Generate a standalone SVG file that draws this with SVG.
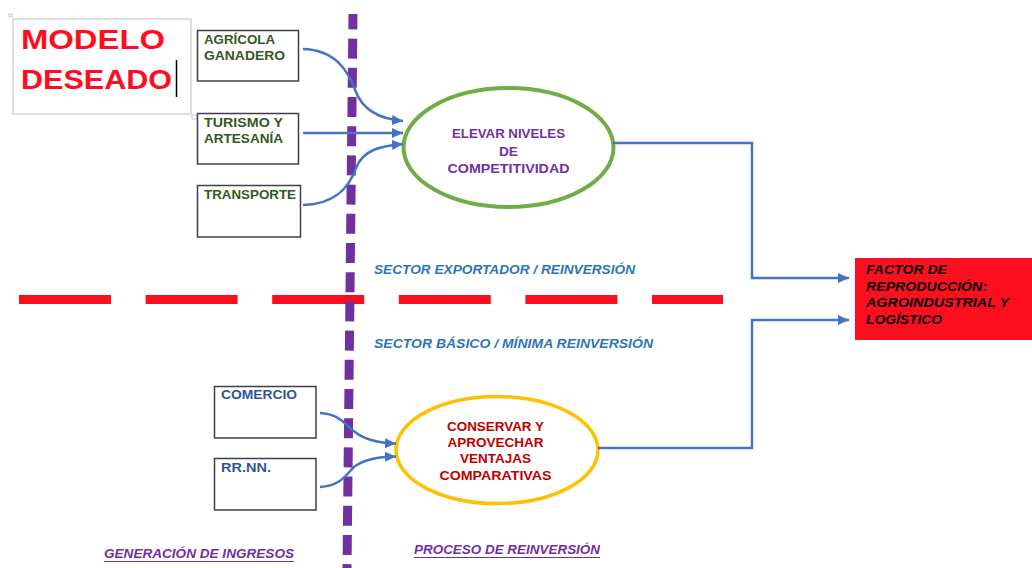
<svg xmlns="http://www.w3.org/2000/svg" width="1032" height="568" viewBox="0 0 1032 568">
<style>
text{font-family:"Liberation Sans",Arial,sans-serif;font-weight:bold;}
.box{fill:#fff;stroke:#404040;stroke-width:1.5;}
.g{fill:#375623;font-size:12px;}
.b{fill:#2F5597;font-size:12px;}
.pu{fill:#7030A0;font-size:12.5px;}
.dr{fill:#C00000;font-size:13.5px;}
.it{font-style:italic;}
.sec{fill:#2E75B6;font-size:12.5px;font-style:italic;}
.blk{fill:#000;font-size:12px;font-style:italic;}
.conn{fill:none;stroke:#4472C4;stroke-width:2.5;marker-end:url(#arr);}
.elb{fill:none;stroke:#4472C4;stroke-width:2.5;marker-end:url(#arr);}
</style>
<defs>
<marker id="arr" markerUnits="userSpaceOnUse" markerWidth="12" markerHeight="10" refX="11" refY="5" orient="auto">
<path d="M0,0 L11,5 L0,10 z" fill="#4472C4"/>
</marker>
</defs>
<rect width="1032" height="568" fill="#fff"/>

<g id="title">
<rect x="13" y="19" width="178" height="95" fill="#fff" stroke="#BFBFBF" stroke-width="1"/>
<rect x="9" y="14" width="3" height="3" fill="none" stroke="#BFBFBF" stroke-width="0.8"/>
<rect x="192" y="115" width="5" height="4" fill="#fff" stroke="#BFBFBF" stroke-width="0.8"/>
<text x="21" y="49" font-size="27" fill="#FF0D1F" textLength="144" lengthAdjust="spacingAndGlyphs">MODELO</text>
<text x="21" y="89" font-size="27" fill="#FF0D1F" textLength="151" lengthAdjust="spacingAndGlyphs">DESEADO</text>
<line x1="176.5" y1="60" x2="176.5" y2="97" stroke="#000" stroke-width="1.5"/>
</g>

<g id="dividers">
<line x1="19" y1="299.5" x2="723" y2="299.5" stroke="#FF0D1F" stroke-width="9" stroke-dasharray="92 34.6"/>
<line x1="353" y1="14" x2="347" y2="568" stroke="#7030A0" stroke-width="9" stroke-dasharray="20 9.2" stroke-dashoffset="4.6"/>
</g>

<g id="agricola">
<rect class="box" x="197.5" y="30.5" width="101" height="50.5"/>
<text class="g" x="204" y="43.5" textLength="71" lengthAdjust="spacingAndGlyphs">AGRÍCOLA</text>
<text class="g" x="204" y="60" textLength="81" lengthAdjust="spacingAndGlyphs">GANADERO</text>
</g>
<g id="turismo">
<rect class="box" x="197.5" y="113.5" width="101" height="50.5"/>
<text class="g" x="204" y="126.5" textLength="79" lengthAdjust="spacingAndGlyphs">TURISMO Y</text>
<text class="g" x="204" y="143" textLength="79" lengthAdjust="spacingAndGlyphs">ARTESANÍA</text>
</g>
<g id="transporte">
<rect class="box" x="197.5" y="185.5" width="103" height="51.5"/>
<text class="g" x="204" y="198.5" textLength="92" lengthAdjust="spacingAndGlyphs">TRANSPORTE</text>
</g>
<g id="comercio">
<rect class="box" x="214.5" y="386.5" width="101.5" height="51.5"/>
<text class="b" x="221" y="399" textLength="76" lengthAdjust="spacingAndGlyphs">COMERCIO</text>
</g>
<g id="rrnn">
<rect class="box" x="214.5" y="458.5" width="101.5" height="51.5"/>
<text class="b" x="221" y="472" textLength="50" lengthAdjust="spacingAndGlyphs">RR.NN.</text>
</g>

<g id="competitividad">
<ellipse cx="508.5" cy="147.5" rx="105" ry="59.5" fill="#fff" stroke="#70AD47" stroke-width="4"/>
<text class="pu" x="508.5" y="138" text-anchor="middle" textLength="113" lengthAdjust="spacingAndGlyphs">ELEVAR NIVELES</text>
<text class="pu" x="508.5" y="155.5" text-anchor="middle" textLength="19" lengthAdjust="spacingAndGlyphs">DE</text>
<text class="pu" x="508.5" y="172.5" text-anchor="middle" textLength="122" lengthAdjust="spacingAndGlyphs">COMPETITIVIDAD</text>
</g>

<g id="ventajas">
<ellipse cx="497" cy="450" rx="101" ry="53.5" fill="#fff" stroke="#FFC000" stroke-width="3.5"/>
<text class="dr" x="495.5" y="431" text-anchor="middle" textLength="97" lengthAdjust="spacingAndGlyphs">CONSERVAR Y</text>
<text class="dr" x="495.5" y="446.5" text-anchor="middle" textLength="96" lengthAdjust="spacingAndGlyphs">APROVECHAR</text>
<text class="dr" x="495.5" y="462.5" text-anchor="middle" textLength="71" lengthAdjust="spacingAndGlyphs">VENTAJAS</text>
<text class="dr" x="495.5" y="480" text-anchor="middle" textLength="112" lengthAdjust="spacingAndGlyphs">COMPARATIVAS</text>
</g>

<g id="factor">
<rect x="855" y="258" width="177" height="82" fill="#FE0F1F"/>
<text class="blk" x="866" y="274" textLength="81" lengthAdjust="spacingAndGlyphs">FACTOR DE</text>
<text class="blk" x="866" y="290.5" textLength="121" lengthAdjust="spacingAndGlyphs">REPRODUCCIÓN:</text>
<text class="blk" x="866" y="307" textLength="143" lengthAdjust="spacingAndGlyphs">AGROINDUSTRIAL Y</text>
<text class="blk" x="866" y="324" textLength="76" lengthAdjust="spacingAndGlyphs">LOGÍSTICO</text>
</g>

<g id="labels">
<text class="sec" x="374" y="274" textLength="261" lengthAdjust="spacingAndGlyphs">SECTOR EXPORTADOR / REINVERSIÓN</text>
<text class="sec" x="374" y="348" textLength="279" lengthAdjust="spacingAndGlyphs">SECTOR BÁSICO / MÍNIMA REINVERSIÓN</text>
<text class="pu it" x="104" y="557.5" textLength="190" lengthAdjust="spacingAndGlyphs" style="font-size:12px">GENERACIÓN DE INGRESOS</text>
<line x1="104" y1="561.5" x2="294" y2="561.5" stroke="#7030A0" stroke-width="1"/>
<text class="pu it" x="414" y="553.5" textLength="186" lengthAdjust="spacingAndGlyphs" style="font-size:12px">PROCESO DE REINVERSIÓN</text>
<line x1="414" y1="557.5" x2="600" y2="557.5" stroke="#7030A0" stroke-width="1"/>
</g>

<g id="connectors">
<path class="conn" d="M303,49 C335,50 348,70 356,92 C363,110 380,119 403,121"/>
<path class="conn" d="M303,133 L403,133"/>
<path class="conn" d="M303,205 C335,204 349,188 356,168 C363,150 380,146 403,144"/>
<path class="conn" d="M320,413 C340,414 345,425 355,432 C365,440 378,443 396,443.5"/>
<path class="conn" d="M320,487 C340,486 346,475 354,467 C364,459 378,457 396,456.5"/>
<path class="elb" d="M613,143 H752 V278 H849"/>
<path class="elb" d="M598,448 H752 V320 H849"/>
</g>
</svg>
